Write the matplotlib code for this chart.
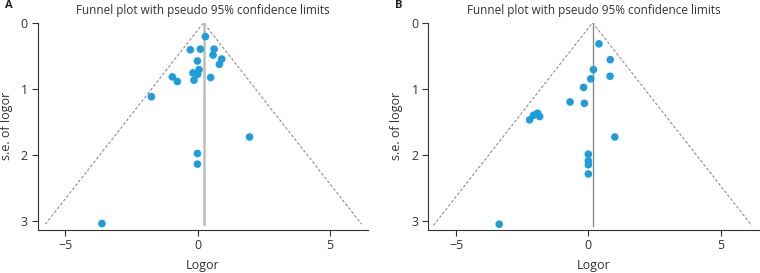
import matplotlib
matplotlib.use("Agg")
import matplotlib.pyplot as plt

plt.rcParams['font.family'] = ['Open Sans', 'DejaVu Sans']

# panel A
logor_a = [0.29, -0.28, 0.10, 0.62, 0.58, 0.91, -0.01, 0.82, 0.05, -0.18,
           0.0, -0.96, 0.49, -0.77, -0.14, -1.75, 1.96, -0.01, -0.01, -3.62]
se_a = [0.21, 0.41, 0.40, 0.40, 0.49, 0.55, 0.58, 0.63, 0.71, 0.76,
        0.78, 0.82, 0.83, 0.89, 0.87, 1.12, 1.73, 1.98, 2.14, 3.04]
pooled_a = 0.22
semax_a = 3.05

# panel B
logor_b = [0.40, 0.83, 0.19, 0.82, 0.09, -0.18, -0.69, -0.15, -1.92, -2.07,
           -1.84, -2.22, 1.00, 0.0, 0.0, 0.0, 0.0, -3.37]
se_b = [0.32, 0.56, 0.71, 0.81, 0.85, 0.98, 1.20, 1.22, 1.37, 1.40,
        1.42, 1.47, 1.73, 1.99, 2.09, 2.15, 2.29, 3.05]
pooled_b = 0.16
semax_b = 3.07

panels = [("A", logor_a, se_a, pooled_a, semax_a, "#bdbdbd", 1.8),
          ("B", logor_b, se_b, pooled_b, semax_b, "#8c8c8c", 1.0)]

fig = plt.figure(figsize=(7.6, 2.73), dpi=100)
W, H = 760, 273
boxes = [(37.7, 368.3), (428.3, 759)]

for (tag, x, se, pooled, semax, vcol, vlw), (l, r) in zip(panels, boxes):
    ax = fig.add_axes([l / W, 1 - 229.5 / H, (r - l) / W, (229.5 - 22.7) / H])
    ax.plot([pooled - 1.96 * semax, pooled, pooled + 1.96 * semax],
            [semax, 0, semax], color="#808080", lw=0.7, ls=(0, (3, 2)))
    ax.plot([pooled, pooled], [0, semax], color=vcol, lw=vlw)
    ax.scatter(x, se, s=30, color="#1c9ddc", edgecolors="none", zorder=3)
    ax.set_xlim(-6.05, 6.45)
    ax.set_ylim(3.13, 0)
    ax.set_xticks([-5, 0, 5])
    ax.set_xticklabels(["\u22125", "0", "5"])
    ax.set_yticks([0, 1, 2, 3])
    for s in ["top", "right"]:
        ax.spines[s].set_visible(False)
    for s in ["left", "bottom"]:
        ax.spines[s].set_color("#333333")
        ax.spines[s].set_linewidth(0.8)
    ax.tick_params(length=4, width=0.8, color="#333333", labelsize=9,
                   labelcolor="#333333", pad=3)
    ax.set_xlabel("Logor", fontsize=9, color="#333333", labelpad=5)
    ax.set_ylabel("s.e. of logor", fontsize=9, color="#333333", labelpad=6)
    ax.set_title("Funnel plot with pseudo 95% confidence limits", fontsize=8.5,
                 color="#333333", pad=6)
    fig.text((l - 33) / W, 1 - 6 / H, tag, fontsize=8, fontweight="bold",
             va="center", ha="left", color="#222222")

fig.savefig("out.png", dpi=100)
